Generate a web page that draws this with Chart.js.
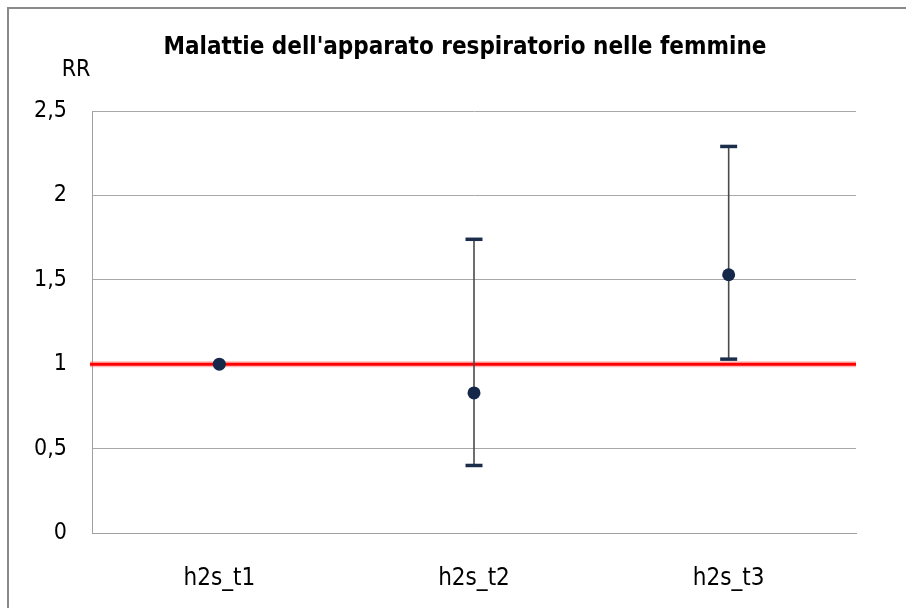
<!DOCTYPE html>
<html><head><meta charset="utf-8">
<script src="https://cdn.jsdelivr.net/npm/chart.js@4.4.1/dist/chart.umd.min.js"></script>
<style>
html,body{margin:0;padding:0;background:#fff;overflow:hidden;}
#wrap{position:relative;width:906px;height:608px;overflow:hidden;}
#frame{position:absolute;left:7px;top:7px;width:920px;height:620px;border:2px solid #8a8a8a;pointer-events:none;}
canvas{position:absolute;left:0;top:0;}
</style></head>
<body>
<div id="wrap"><canvas id="c" width="906" height="608"></canvas><div id="frame"></div></div>
<script>
const categories = ['h2s_t1', 'h2s_t2', 'h2s_t3'];
const rrValues = [1.00, 0.83, 1.53];
const ciLower = [null, 0.40, 1.03];
const ciUpper = [null, 1.74, 2.29];
const yTickLabels = ['0', '0,5', '1', '1,5', '2', '2,5'];
const referenceValue = 1;
const titleText = "Malattie dell'apparato respiratorio nelle femmine";
const yAxisTitle = 'RR';

const FONT = "'Liberation Sans Narrow', 'DejaVu Sans Condensed', 'Open Sans', sans-serif";

const extras = {
  id: 'extras',
  beforeDatasetsDraw(chart) {
    const {ctx, chartArea, scales} = chart;
    const x = scales.x, y = scales.y;
    const yr = y.getPixelForValue(referenceValue);
    ctx.save();
    ctx.strokeStyle = 'rgba(255,60,60,0.35)';
    ctx.lineWidth = 6;
    ctx.beginPath(); ctx.moveTo(chartArea.left - 2, yr); ctx.lineTo(chartArea.right, yr); ctx.stroke();
    ctx.strokeStyle = '#ff0000';
    ctx.lineWidth = 3;
    ctx.beginPath(); ctx.moveTo(chartArea.left - 2, yr); ctx.lineTo(chartArea.right, yr); ctx.stroke();
    categories.forEach((c, i) => {
      if (ciLower[i] == null || ciUpper[i] == null) return;
      const px = x.getPixelForValue(i);
      const yl = y.getPixelForValue(ciLower[i]);
      const yu = y.getPixelForValue(ciUpper[i]);
      ctx.strokeStyle = '#4a4a4a';
      ctx.lineWidth = 1.6;
      ctx.beginPath(); ctx.moveTo(px, yu); ctx.lineTo(px, yl); ctx.stroke();
      ctx.strokeStyle = '#1b2d4b';
      ctx.lineWidth = 3.5;
      ctx.beginPath(); ctx.moveTo(px - 8.5, yu); ctx.lineTo(px + 8.5, yu); ctx.stroke();
      ctx.beginPath(); ctx.moveTo(px - 8.5, yl); ctx.lineTo(px + 8.5, yl); ctx.stroke();
    });
    ctx.restore();
  },
  afterDraw(chart) {
    const {ctx} = chart;
    ctx.save();
    ctx.fillStyle = '#000';
    ctx.textAlign = 'center';
    ctx.textBaseline = 'middle';
    ctx.font = "bold 24px " + FONT;
    ctx.fillText(titleText, 465, 48);
    ctx.font = "23px " + FONT;
    ctx.fillText(yAxisTitle, 76, 70);
    ctx.restore();
  }
};

new Chart(document.getElementById('c'), {
  type: 'line',
  data: {
    labels: categories,
    datasets: [{
      data: rrValues,
      showLine: false,
      pointRadius: 6.5,
      pointHoverRadius: 6.5,
      pointBackgroundColor: '#15284a',
      pointBorderColor: '#15284a',
      pointBorderWidth: 0
    }]
  },
  options: {
    responsive: false,
    animation: false,
    layout: {padding: {left: 0, right: 50, top: 111, bottom: 0}},
    plugins: {legend: {display: false}, title: {display: false}, tooltip: {enabled: false}},
    scales: {
      x: {
        type: 'category',
        offset: true,
        grid: {display: false, drawTicks: false},
        border: {display: true, color: '#a0a0a0', width: 1},
        ticks: {color: '#000', font: {family: FONT, size: 24}, padding: 31, maxRotation: 0},
        afterFit(s) { s.height = 75; }
      },
      y: {
        min: 0, max: 2.5,
        ticks: {
          stepSize: 0.5,
          color: '#000',
          font: {family: FONT, size: 23},
          padding: 25,
          crossAlign: 'near',
          callback: (v, i) => yTickLabels[i]
        },
        grid: {color: '#a8a8a8', lineWidth: 1, drawTicks: false},
        border: {display: true, color: '#a0a0a0', width: 1},
        afterFit(s) { s.width = 92; }
      }
    }
  },
  plugins: [extras]
});
</script>
</body></html>
